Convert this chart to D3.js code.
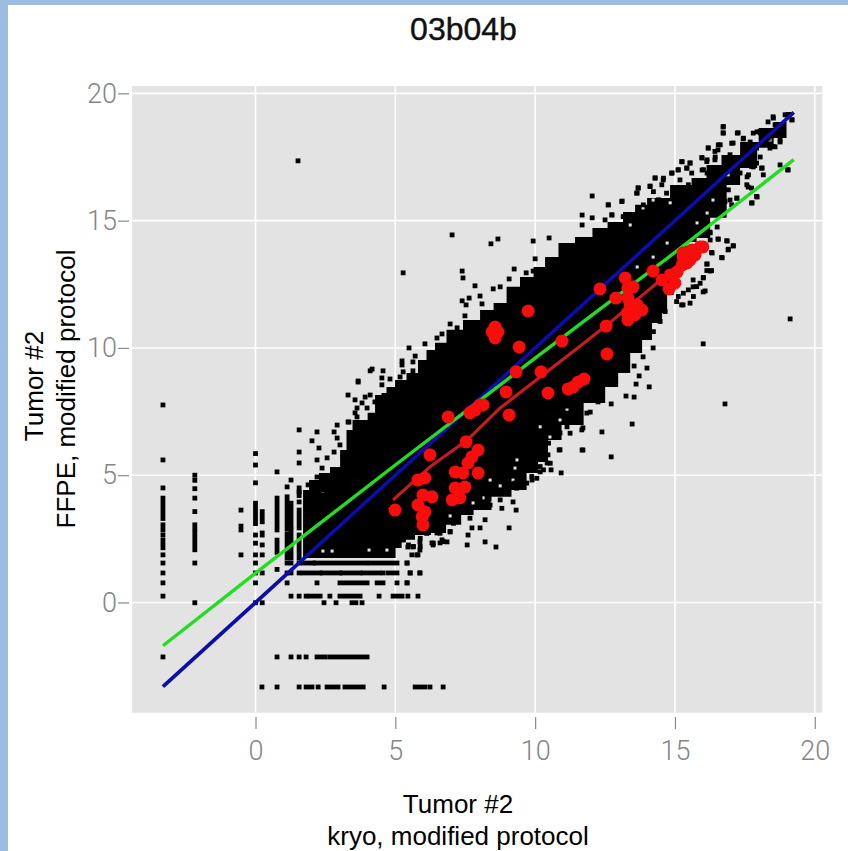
<!DOCTYPE html>
<html><head><meta charset="utf-8">
<script src="https://cdn.jsdelivr.net/npm/d3@7"></script>
<style>html,body{margin:0;padding:0;background:#fff;overflow:hidden}svg{display:block}</style>
</head><body><div id="chart"></div>
<script>
const chartTitle = "03b04b";
const xTitleLines = ["Tumor #2", "kryo, modified protocol"];
const yTitleLines = ["Tumor #2", "FFPE, modified protocol"];
const tickValues = [0, 5, 10, 15, 20];

// dense mass of the scatter: upper and lower edge
const cloudTop = [[1.70,4.42],[2.13,4.81],[2.41,5.09],[2.92,5.32],[3.13,5.99],[3.38,6.78],[3.56,7.17],[3.92,7.17],[4.10,7.45],[4.45,8.15],[4.56,8.23],[4.81,8.47],[5.17,8.74],[5.63,9.02],[5.99,9.53],[6.24,9.92],[6.60,10.20],[7.06,10.71],[7.78,11.10],[8.28,11.49],[8.75,11.77],[9.21,12.40],[9.71,12.79],[10.18,13.18],[10.53,13.57],[11.14,14.12],[11.71,14.36],[12.39,14.71],[12.79,14.95],[13.50,15.34],[13.65,15.62],[14.36,15.89],[15.29,16.40],[15.90,16.68],[16.36,17.19],[16.97,17.58],[17.69,18.09],[18.30,18.64],[18.76,18.88],[19.22,19.27]];
const cloudBottom = [[1.70,1.75],[4.92,1.75],[5.10,2.14],[5.35,2.46],[6.06,2.65],[6.49,2.73],[7.14,3.05],[7.57,3.44],[8.03,3.63],[8.85,4.15],[9.46,4.42],[9.93,5.09],[10.28,5.52],[10.64,6.38],[11.25,6.97],[12.22,7.84],[12.79,8.47],[13.15,9.02],[13.65,9.80],[14.00,10.31],[14.36,10.98],[14.72,11.37],[14.72,12.08],[15.18,13.06],[15.65,14.16],[15.90,14.32],[16.62,15.11],[17.08,16.40],[17.58,17.07],[18.30,17.86],[18.76,18.25],[19.22,19.15]];

// holes inside the mass
const gapPoints = [[2.41,2.02],[2.74,2.02],[4.06,2.06],[4.70,2.06],[2.41,4.26],[9.35,5.60],[9.28,5.28],[8.39,4.81],[8.75,4.58],[8.14,4.11],[8.46,3.91],[6.96,3.40],[7.78,3.91],[9.21,4.81],[10.18,6.90],[10.53,6.50],[10.89,7.17],[11.14,7.56],[13.86,15.50],[13.40,14.83],[14.83,15.70],[14.22,15.81],[14.72,14.12],[14.22,13.57],[13.65,13.18],[15.79,14.91],[16.15,15.30],[16.36,15.81],[16.97,16.21],[17.44,16.60],[17.94,17.27],[18.40,18.17],[16.90,16.80]];

// individual points around the mass
const fringePoints = [
[3.31,8.15],[3.67,8.66],[3.56,7.96],[3.92,8.07],[4.10,8.15],[3.81,7.84],[3.99,7.64],[3.63,7.64],[3.56,7.45],[2.92,6.97],[3.34,7.09],[3.38,6.66],[2.81,6.70],[2.92,6.46],[2.20,6.70],[1.56,6.78],[2.02,6.35],[2.27,6.07],[1.56,5.91],[1.56,5.48],[2.81,5.91],[3.02,6.19],[3.13,5.72],[2.56,5.68],[2.20,5.60],[2.38,5.28],[2.95,5.21],[3.02,5.01],[2.66,4.93],[2.20,4.93],[2.38,4.70],[2.74,4.70],[0.77,5.13],[1.27,4.81],[1.13,4.54],[1.56,4.34],[1.88,4.62],[2.41,4.22],
[7.03,14.44],[5.28,12.95],[8.42,14.09],[8.67,14.28],[9.93,14.20],[10.00,13.50],[9.93,13.02],[9.25,13.10],[9.07,12.71],[9.68,12.95],[7.39,13.02],[7.42,12.75],[7.85,12.44],[8.50,12.32],[8.75,12.40],[7.64,11.96],[8.03,12.04],[7.39,11.85],[8.10,11.73],[7.53,11.69],[7.49,11.26],[6.96,10.94],[7.21,10.79],[6.67,10.55],[6.49,10.39],[6.06,10.16],[5.49,10.00],[5.71,9.68],[5.24,9.49],[5.24,9.33],[5.63,9.45],[5.63,9.10],[4.56,9.10],[4.17,9.17],[4.10,9.10],[5.28,9.06],[5.17,8.86],[4.52,8.82],[4.81,8.78],[3.67,8.70],[4.52,8.55],[4.88,8.35],[4.27,7.88],[3.31,7.09],[3.63,7.29],
[16.72,18.68],[16.72,18.45],[17.26,18.45],[17.44,18.21],[17.08,18.05],[16.62,17.98],[16.19,17.86],[16.54,17.78],[17.94,18.49],[18.51,19.08],[18.33,18.88],[19.01,19.15],[19.19,18.96],[18.69,18.76],[18.87,18.49],[18.76,18.09],[18.58,17.90],[18.05,18.45],[17.69,18.09],[15.97,17.46],[16.44,17.50],[16.15,17.39],[15.26,17.31],[15.54,17.27],[15.43,17.07],[15.11,16.99],[15.97,16.99],[16.15,16.87],[14.90,16.87],[14.29,16.68],[13.68,16.29],[13.65,16.09],[14.11,16.36],[14.58,16.60],[12.04,15.97],[13.11,15.77],[12.61,15.62],[11.68,15.22],[12.04,15.11],[11.68,14.83],[12.75,15.22],[10.50,14.32],
[18.76,17.19],[19.05,16.99],[17.94,15.93],[17.76,15.70],[17.62,16.32],[18.05,17.50],[18.12,17.07],[17.80,17.11],[17.58,16.72],[17.22,15.89],[16.97,15.81],[16.62,15.50],[16.51,14.75],[16.26,14.52],[16.26,14.24],[16.54,14.28],[16.87,14.20],[17.08,14.01],[16.90,13.85],[16.33,13.73],[16.69,13.54],[16.15,13.30],[16.26,13.02],[16.01,12.75],[15.65,12.67],[16.01,12.20],[15.65,12.40],[15.29,11.69],[16.01,10.16],[16.79,7.80],[19.12,11.14],
[13.47,7.01],[12.72,7.80],[13.25,8.11],[13.54,8.07],[14.08,8.47],[13.61,8.58],[13.72,8.90],[14.00,9.21],[13.54,9.29],[13.86,9.65],[14.22,10.00],[12.39,6.70],[11.68,5.99],[12.72,5.72],[10.93,5.09],[10.57,5.21],[10.86,5.99],[10.46,5.80],[11.71,6.86],[11.50,7.17],[12.25,7.88],[11.97,7.48],[11.14,6.90],[10.89,6.66],[9.21,3.95],[9.32,3.63],[9.07,2.93],[8.21,2.38],[8.60,2.18],[7.57,2.26],[7.60,2.65],[6.96,2.77],[8.03,2.93],[7.74,2.93],[6.67,2.46],[11.71,5.99],[9.89,4.81],[10.18,5.13],[10.43,5.48],
[5.42,1.55],[5.53,1.16],[5.88,1.16],[5.42,0.77],[5.28,2.46],[5.63,2.18],[5.81,1.87],[5.45,2.18],[5.88,2.38],[6.31,2.34],[6.60,2.34],[6.85,2.38],[6.13,2.73],[6.49,2.73],[5.88,2.06],[6.35,2.26],
[1.52,17.35],
[16.73,18.70],[16.73,18.44],[17.23,18.44],[17.45,18.24],[17.03,18.04],[16.55,17.98],[16.19,17.85],[16.43,17.72],[16.97,17.59],[15.96,17.48],[16.14,17.32],[16.43,17.39],[15.24,17.32],[15.54,17.26],[15.42,17.06],[15.12,17.00],[15.60,16.87],[16.02,17.00],[14.88,16.87],[14.59,16.67],[14.29,16.67],[14.11,16.34],[14.53,16.41],[13.69,16.28],[13.63,16.08],[14.23,16.14],[15.18,16.60],[15.48,16.41],[14.70,16.08],[15.18,16.01],[13.10,15.75],[12.62,15.62],[12.74,15.23],[13.15,15.16],[12.50,15.03],[13.87,15.62],[14.41,15.82],[17.80,18.44],[18.04,18.50],[18.28,18.24],[18.52,19.03],[18.94,19.16],[18.58,18.76],[18.88,18.76],[19.18,18.96],
[19.03,17.00],[18.10,17.06],[17.92,17.26],[18.16,16.80],[17.74,17.13],[17.63,16.80],[17.33,16.87],[17.57,16.41],[17.74,16.28],[17.92,15.95],[17.74,15.69],[17.03,16.60],[16.91,16.21],[17.21,15.88],[17.03,15.62],[16.67,15.49],[16.79,15.75],[16.25,14.55],[16.55,14.27],[16.85,14.21],[17.09,14.01],[16.91,13.88],[16.31,13.75],[16.67,13.55],[16.14,13.29],[16.14,13.04],[16.31,13.04],[16.02,12.77],[15.90,12.54],[16.08,12.24],[15.78,12.41],[15.48,12.28],[15.30,12.15],[15.66,12.02],[15.12,12.02],[15.54,11.76],[15.24,11.69],[15.06,11.82],[14.59,11.95],[14.65,11.43],[14.41,11.69],[14.47,11.04],[14.23,10.64],[18.52,17.91],[18.34,18.24],[17.92,17.85],[18.40,17.85],[18.76,18.17],[17.69,17.59],[17.15,17.19],[16.85,17.00],
[10.48,6.26],[10.77,6.72],[10.89,6.00],[11.25,6.65],[11.67,6.78],[11.43,7.17],[11.13,7.44],[11.85,7.44],[10.54,5.47],[10.30,5.21],[10.06,4.88],[9.70,4.69],[9.34,4.49],[8.97,4.55],[8.75,4.03],[8.39,3.83],[8.03,4.10],[8.81,3.70],[8.21,3.25],[7.67,3.31],[7.08,3.11],[6.96,2.79],[6.72,2.39],[6.36,2.33],[6.12,2.72],[6.60,2.72],[5.89,2.20],[5.65,2.20],[5.47,2.26],[5.89,2.52],[5.29,2.46],[5.77,1.87],[5.59,1.87],[10.18,5.34],[9.88,4.95],[9.28,4.69]];

// low-intensity lattice: horizontal strips, y value and x extents
const rowValues = [1.55, 1.16, 0.77, 0.25, -0.01, -2.14, -3.32];
const rowRuns = [
 [[1.70,2.07],[2.13,3.95],[4.10,5.06],[5.42,5.42]],
 [[1.70,2.31],[2.38,3.02],[3.09,3.74],[3.84,4.42],[4.56,4.56],[4.74,5.06],[5.53,5.53],[5.88,5.88]],
 [[1.13,1.13],[2.20,2.20],[3.02,3.99],[4.35,4.56],[5.06,5.06],[5.42,5.42]],
 [[1.27,1.27],[1.56,1.56],[1.81,1.81],[1.95,2.31],[2.66,2.66],[3.02,3.74],[4.42,4.42],[4.92,5.24],[5.45,5.45],[5.81,5.81]],
 [[2.45,2.45],[2.88,2.88],[3.45,3.59],[3.81,3.81]],
 [[0.77,0.77],[1.27,1.27],[1.56,1.56],[1.81,1.81],[2.20,2.49],[2.66,3.99]],
 [[0.23,0.23],[0.77,0.77],[1.56,1.56],[1.81,2.02],[2.24,2.24],[2.56,2.95],[3.20,3.85],[4.60,4.60],[5.71,6.06],[6.24,6.24],[6.71,6.71]]
];

// low-intensity lattice: vertical strips, x value and y extents
const colValues = [-3.31, -2.17, -0.52, 0, 0.24, 0.77, 1.13, 1.27, 1.56];
const colRuns = [
 [[7.76,7.76],[5.60,5.60],[4.50,4.50],[4.10,3.30],[3.05,2.85],[2.65,2.65],[2.45,2.15],[1.87,1.87],[1.55,1.55],[1.16,1.16],[0.77,0.77],[0.25,0.25],[-2.14,-2.14]],
 [[5.00,5.00],[4.80,4.80],[4.47,4.47],[4.10,4.10],[3.57,3.57],[3.05,2.90],[2.73,2.07],[1.55,1.55],[-0.01,-0.01]],
 [[3.63,3.63],[3.00,2.85],[1.87,1.87]],
 [[5.85,5.85],[5.40,5.40],[4.70,4.70],[3.90,3.10],[2.65,2.65],[2.33,2.33],[1.87,1.87],[1.55,1.55],[1.16,1.16],[0.77,0.77],[-0.01,-0.01]],
 [[3.57,3.17],[2.73,2.65],[2.26,2.26],[1.87,1.87],[1.16,1.16],[-0.01,-0.01]],
 [[4.10,2.85],[2.45,1.97],[1.30,1.30]],
 [[4.15,2.90],[2.70,1.75],[1.55,1.55],[1.16,1.16]],
 [[3.90,3.00],[2.85,1.75],[1.55,1.55],[1.16,1.16]],
 [[4.50,4.20],[3.95,3.95],[3.63,2.93],[2.65,1.75],[1.55,1.55],[1.16,1.16]]
];

const identityX = [-3.31, 19.25];
const identityY = [-3.31, 19.25];
const greenX = [-3.31, 0, 5, 10, 15, 19.25];
const greenY = [-1.70, 1.15, 5.40, 9.60, 13.75, 17.40];
const redLineX = [4.92, 6.24, 7.57, 8.75, 10.18, 11.43, 12.57, 13.75, 14.58, 15.90];
const redLineY = [4.03, 5.33, 6.38, 7.64, 8.86, 9.92, 10.90, 12.00, 12.75, 13.97];
const redPoints = [[4.99,3.63],[5.99,3.04],[5.99,4.22],[6.31,4.15],[5.81,3.83],[6.06,3.56],[5.96,3.36],[5.81,4.81],[6.06,4.89],[6.24,5.80],[7.03,4.03],[7.31,4.11],[7.14,4.50],[7.49,4.54],[7.14,5.13],[7.42,5.09],[7.96,5.09],[7.60,5.48],[7.74,5.72],[7.96,5.99],[7.53,6.31],[6.89,7.29],[7.67,7.45],[7.85,7.56],[8.03,7.76],[8.14,7.76],[9.07,7.37],[8.96,8.27],[9.32,9.06],[10.21,9.06],[10.46,8.23],[11.18,8.39],[11.36,8.47],[11.54,8.66],[11.75,8.78],[12.57,9.76],[12.54,10.86],[10.96,10.27],[9.43,10.04],[8.57,10.82],[8.46,10.63],[8.57,10.39],[8.67,10.63],[9.75,11.45],[12.32,12.32],[12.89,11.96],[13.22,12.75],[13.32,12.36],[13.50,12.40],[13.32,11.96],[13.32,11.10],[13.29,11.37],[13.57,11.30],[13.82,11.49],[13.64,11.70],[13.40,11.70],[14.22,13.02],[14.79,12.32],[14.83,12.87],[15.08,12.99],[15.26,13.26],[15.43,13.34],[15.29,13.73],[15.61,13.85],[15.90,13.97],[15.54,13.46],[15.00,12.55],[14.54,12.67],[15.72,13.65],[16.00,13.97],[15.30,13.55]];

const W = 848, H = 851;
const panel = {l:132, r:822.3, t:86, b:712.7};
const x = d3.scaleLinear().domain([-4.417, 20.27]).range([panel.l, panel.r]);
const y = d3.scaleLinear().domain([-4.33, 20.29]).range([panel.b, panel.t]);
const svg = d3.select("#chart").append("svg").attr("width", W).attr("height", H);
svg.append("rect").attr("width", W).attr("height", H).attr("fill", "#fff");
svg.append("rect").attr("width", 8).attr("height", H).attr("fill", "#9cbde0");
svg.append("rect").attr("width", W).attr("height", 5).attr("fill", "#9cbde0");

const defs = svg.append("defs");
defs.append("filter").attr("id","soft").attr("x","-5%").attr("y","-5%").attr("width","110%").attr("height","110%")
  .append("feGaussianBlur").attr("stdDeviation", 0.45);

const plot = svg.append("g").attr("filter","url(#soft)");
plot.append("rect").attr("x", panel.l).attr("y", panel.t)
  .attr("width", panel.r-panel.l).attr("height", panel.b-panel.t).attr("fill", "#e3e3e3");

// grid
plot.append("g").selectAll("line").data(tickValues).join("line")
  .attr("x1", d=>x(d)).attr("x2", d=>x(d)).attr("y1", panel.t).attr("y2", panel.b)
  .attr("stroke","#fff").attr("stroke-width",1.6);
plot.append("g").selectAll("line").data(tickValues).join("line")
  .attr("y1", d=>y(d)).attr("y2", d=>y(d)).attr("x1", panel.l).attr("x2", panel.r)
  .attr("stroke","#fff").attr("stroke-width",1.6);

// black scatter
const poly = cloudTop.concat(cloudBottom.slice().reverse());
plot.append("path").attr("d", d3.line().curve(d3.curveStep).x(d=>x(d[0])).y(d=>y(d[1]))(poly) + "Z").attr("fill","#000");
plot.append("g").selectAll("rect").data(gapPoints).join("rect")
  .attr("x", d=>x(d[0])-1.5).attr("y", d=>y(d[1])-1.5).attr("width",3).attr("height",3).attr("fill","#e3e3e3");
const PS = 4.8;
plot.append("g").selectAll("rect").data(fringePoints).join("rect")
  .attr("x", d=>x(d[0])-PS/2).attr("y", d=>y(d[1])-PS/2).attr("width",PS).attr("height",PS).attr("fill","#000");
rowValues.forEach((v,i)=>{
  plot.append("g").selectAll("rect").data(rowRuns[i]).join("rect")
    .attr("x", d=>x(d[0])-PS/2).attr("y", y(v)-PS/2)
    .attr("width", d=>x(d[1])-x(d[0])+PS).attr("height",PS).attr("fill","#000");
});
colValues.forEach((v,i)=>{
  plot.append("g").selectAll("rect").data(colRuns[i]).join("rect")
    .attr("x", x(v)-PS/2).attr("y", d=>y(d[0])-PS/2)
    .attr("width",PS).attr("height", d=>y(d[1])-y(d[0])+PS).attr("fill","#000");
});

// fitted lines
const seg = (xs,ys,col,w)=> plot.append("path")
  .attr("d", d3.line().x(d=>x(d[0])).y(d=>y(d[1]))(d3.zip(xs,ys)))
  .attr("fill","none").attr("stroke",col).attr("stroke-width",w);
seg(identityX, identityY, "#0808a8", 3.7);
seg(greenX, greenY, "#22dd22", 3.4);
seg(redLineX, redLineY, "#c81e1e", 3);
plot.append("g").selectAll("circle").data(redPoints).join("circle")
  .attr("cx", d=>x(d[0])).attr("cy", d=>y(d[1])).attr("r",6.5).attr("fill","#f80808");

// axes
const tickFont = "Roboto, 'Liberation Sans', sans-serif";
const axL = d3.axisLeft(y).tickValues(tickValues).tickSize(11).tickPadding(1);
const gL = svg.append("g").attr("transform","translate(129,0)").call(axL);
const axB = d3.axisBottom(x).tickValues(tickValues).tickSize(12).tickPadding(12);
const gB = svg.append("g").attr("transform","translate(0,717)").call(axB);
[gL,gB].forEach(g=>{
  g.select(".domain").remove();
  g.selectAll("line").attr("stroke","#8a8a8a").attr("stroke-width",1.2);
  g.selectAll("text").attr("fill","#858585").attr("font-family",tickFont).attr("font-weight",300).attr("font-size",27);
});

const labelFont = "'Liberation Sans', Arial, sans-serif";
svg.append("text").text(chartTitle).attr("x",463.5).attr("y",40).attr("text-anchor","middle")
  .attr("font-family",labelFont).attr("font-size",32).attr("fill","#111").attr("stroke","#111").attr("stroke-width",0.4);
xTitleLines.forEach((t,i)=>svg.append("text").text(t).attr("x",458).attr("y",[813,845][i])
  .attr("text-anchor","middle").attr("font-family",labelFont).attr("font-size",26).attr("fill","#000"));
yTitleLines.forEach((t,i)=>svg.append("text").text(t)
  .attr("transform",`translate(${[43,75][i]},${[386,389][i]}) rotate(-90)`)
  .attr("text-anchor","middle").attr("font-family",labelFont).attr("font-size",26).attr("fill","#000"));
</script></body></html>
